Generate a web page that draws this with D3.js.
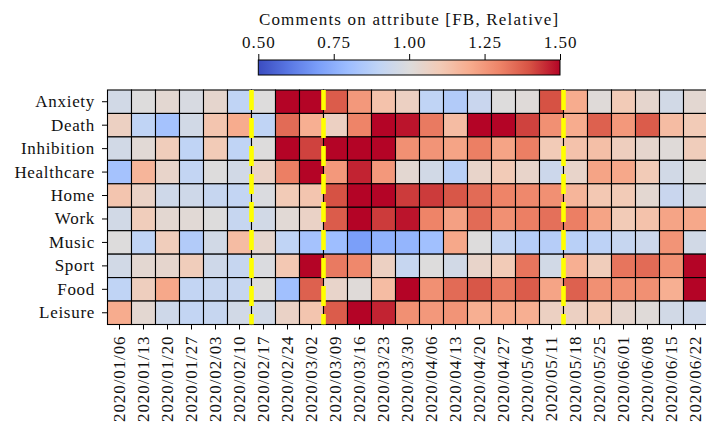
<!DOCTYPE html>
<html>
<head>
<meta charset="utf-8">
<script src="https://cdn.jsdelivr.net/npm/d3@7"></script>
<style>
  html, body { margin: 0; padding: 0; background: #fff; }
  svg { display: block; }
  text { font-family: "Liberation Serif", "DejaVu Serif", serif; fill: #111; }
</style>
</head>
<body>
<svg id="chart" width="706" height="426"></svg>
<script>
// ---------------- data ----------------
const weeks = ["2020/01/06","2020/01/13","2020/01/20","2020/01/27","2020/02/03","2020/02/10","2020/02/17",
  "2020/02/24","2020/03/02","2020/03/09","2020/03/16","2020/03/23","2020/03/30","2020/04/06","2020/04/13",
  "2020/04/20","2020/04/27","2020/05/04","2020/05/11","2020/05/18","2020/05/25","2020/06/01","2020/06/08",
  "2020/06/15","2020/06/22"];
const attributes = ["Anxiety","Death","Inhibition","Healthcare","Home","Work","Music","Sport","Food","Leisure"];

const anxiety    = [0.96,1.00,1.03,0.98,1.04,0.90,1.00,1.62,1.60,1.38,1.25,1.13,1.07,0.90,0.86,0.93,1.00,1.01,1.40,1.20,1.01,1.10,1.04,0.96,1.03];
const death      = [1.07,0.90,0.82,0.96,1.12,1.20,0.90,1.35,1.19,1.07,1.30,1.58,1.48,1.32,1.15,1.60,1.56,1.42,1.27,1.20,1.37,1.25,1.38,1.15,1.10];
const inhibition = [0.96,1.02,1.09,0.90,1.10,0.90,1.00,1.65,1.42,1.60,1.57,1.55,1.27,1.26,1.22,1.31,1.22,1.31,1.10,1.13,1.14,1.08,1.04,1.01,1.09];
const healthcare = [0.82,1.17,1.05,0.91,1.00,0.96,1.06,1.31,1.60,1.25,1.46,1.25,1.03,0.96,0.88,1.05,1.10,1.05,0.94,1.05,1.22,1.21,1.10,0.96,1.00];
const home       = [1.12,1.06,0.95,0.95,0.92,0.91,0.99,1.10,1.12,1.40,1.58,1.55,1.43,1.43,1.39,1.35,1.30,1.29,1.27,1.17,1.11,1.10,1.03,0.93,0.97];
const work       = [0.96,1.09,1.03,1.02,1.00,0.92,0.96,1.02,1.06,1.38,1.60,1.43,1.48,1.30,1.23,1.35,1.27,1.31,1.34,1.31,1.22,1.10,1.13,1.22,1.21];
const music      = [1.00,0.90,1.09,0.86,0.96,1.15,1.04,0.90,0.82,0.80,0.70,0.76,0.77,0.81,1.21,1.00,0.91,0.87,0.87,0.88,0.89,0.92,0.94,1.26,0.96];
const sport      = [0.96,1.03,1.04,1.09,0.95,0.92,0.99,1.11,1.60,1.32,1.29,1.07,0.92,1.00,0.96,1.05,1.10,1.33,0.96,1.19,1.09,1.33,1.35,1.27,1.58];
const food       = [0.90,1.08,1.21,0.91,0.92,0.92,1.00,0.81,1.37,1.05,1.01,1.15,1.55,1.27,1.35,1.39,1.32,1.38,1.22,1.37,1.27,1.27,1.27,1.19,1.57];
const leisure    = [1.20,1.03,0.95,0.91,0.92,0.96,0.96,1.06,1.12,1.38,1.60,1.46,1.27,1.25,1.26,1.19,1.20,1.19,1.07,1.07,1.10,1.04,1.01,0.96,0.95];
const seriesValues = [anxiety, death, inhibition, healthcare, home, work, music, sport, food, leisure];

const markerWeeks = ["2020/02/17","2020/03/09","2020/05/18"];
const colorbarTicks = [0.50, 0.75, 1.00, 1.25, 1.50];
const colorbarTitle = "Comments on attribute [FB, Relative]";

// coolwarm colormap stops (matplotlib)
const coolwarmStops = ["#3b4cc0","#5977e3","#7b9ff9","#9ebeff","#c0d4f5","#dddcdc","#f2cbb7","#f7ac8e","#ee8468","#d65244","#b40426"];

// ---------------- drawing ----------------
const FONT = '"Liberation Serif", "DejaVu Serif", serif';
const svg = d3.select("#chart");
const vmin = 0.5, vmax = 1.5;
const color = d3.scaleLinear()
  .domain(d3.range(coolwarmStops.length).map(i => vmin + (vmax - vmin) * i / (coolwarmStops.length - 1)))
  .range(coolwarmStops)
  .interpolate(d3.interpolateRgb)
  .clamp(true);

const x = d3.scaleBand().domain(weeks).range([107.5, 707.5]);
const y = d3.scaleBand().domain(attributes).range([90, 324.5]);

const cells = [];
attributes.forEach((a, i) => weeks.forEach((w, j) => cells.push({a, w, v: seriesValues[i][j]})));

svg.append("g").selectAll("rect").data(cells).join("rect")
  .attr("x", d => x(d.w))
  .attr("y", d => y(d.a))
  .attr("width", x.bandwidth())
  .attr("height", y.bandwidth())
  .attr("fill", d => color(d.v))
  .attr("stroke", "#000")
  .attr("stroke-width", 1.1);

// yellow dashed markers
svg.append("g").selectAll("line").data(markerWeeks).join("line")
  .attr("x1", d => x(d)).attr("x2", d => x(d))
  .attr("y1", y.range()[0]).attr("y2", y.range()[1])
  .attr("stroke", "#ffff00")
  .attr("stroke-width", 4.6)
  .attr("stroke-dasharray", "20,8");

const fs = 17;
// y axis
const gy = svg.append("g").attr("transform", `translate(${x.range()[0] - 0.5},0)`)
  .call(d3.axisLeft(y).tickSize(5).tickPadding(7));
gy.attr("font-family", FONT);
gy.select(".domain").remove();
gy.selectAll(".tick line").attr("stroke", "#000").attr("stroke-width", 1);
gy.selectAll("text").style("font-family", FONT).style("font-size", fs + "px").style("letter-spacing", "0.7px")
  .attr("fill", "#111");

// x axis
const gx = svg.append("g").attr("transform", `translate(0,${y.range()[1]})`)
  .call(d3.axisBottom(x).tickSize(5));
gx.attr("font-family", FONT);
gx.select(".domain").remove();
gx.selectAll(".tick line").attr("stroke", "#000").attr("stroke-width", 1);
gx.selectAll("text")
  .style("font-family", FONT).style("font-size", "17px").style("letter-spacing", "0.9px")
  .attr("fill", "#111")
  .attr("text-anchor", "end")
  .attr("transform", "rotate(-90)")
  .attr("x", -11).attr("y", 0).attr("dy", "0.33em");

// colorbar
const cb = {x0: 258.3, x1: 560, y0: 60, h: 15};
const cscale = d3.scaleLinear().domain([vmin, vmax]).range([cb.x0, cb.x1]);
const grad = svg.append("defs").append("linearGradient").attr("id", "cw")
  .attr("x1", "0%").attr("x2", "100%").attr("y1", "0%").attr("y2", "0%");
grad.selectAll("stop").data(d3.range(0, 1.0001, 0.02)).join("stop")
  .attr("offset", d => (d * 100) + "%")
  .attr("stop-color", d => color(vmin + d * (vmax - vmin)));
svg.append("rect").attr("x", cb.x0).attr("y", cb.y0).attr("width", cb.x1 - cb.x0).attr("height", cb.h)
  .attr("fill", "url(#cw)").attr("stroke", "#000").attr("stroke-width", 1);
const gc = svg.append("g").attr("transform", `translate(0,${cb.y0})`)
  .call(d3.axisTop(cscale).tickValues(colorbarTicks).tickFormat(d3.format(".2f")).tickSize(6).tickPadding(6));
gc.attr("font-family", FONT);
gc.select(".domain").remove();
gc.selectAll(".tick line").attr("stroke", "#000");
gc.selectAll("text").style("font-family", FONT).style("font-size", fs + "px").style("letter-spacing", "1px")
  .attr("fill", "#111");

svg.append("text").attr("x", (cb.x0 + cb.x1) / 2).attr("y", 25)
  .attr("text-anchor", "middle").style("font-family", FONT).style("font-size", fs + "px").style("letter-spacing", "1.2px")
  .text(colorbarTitle);
</script>
</body>
</html>
